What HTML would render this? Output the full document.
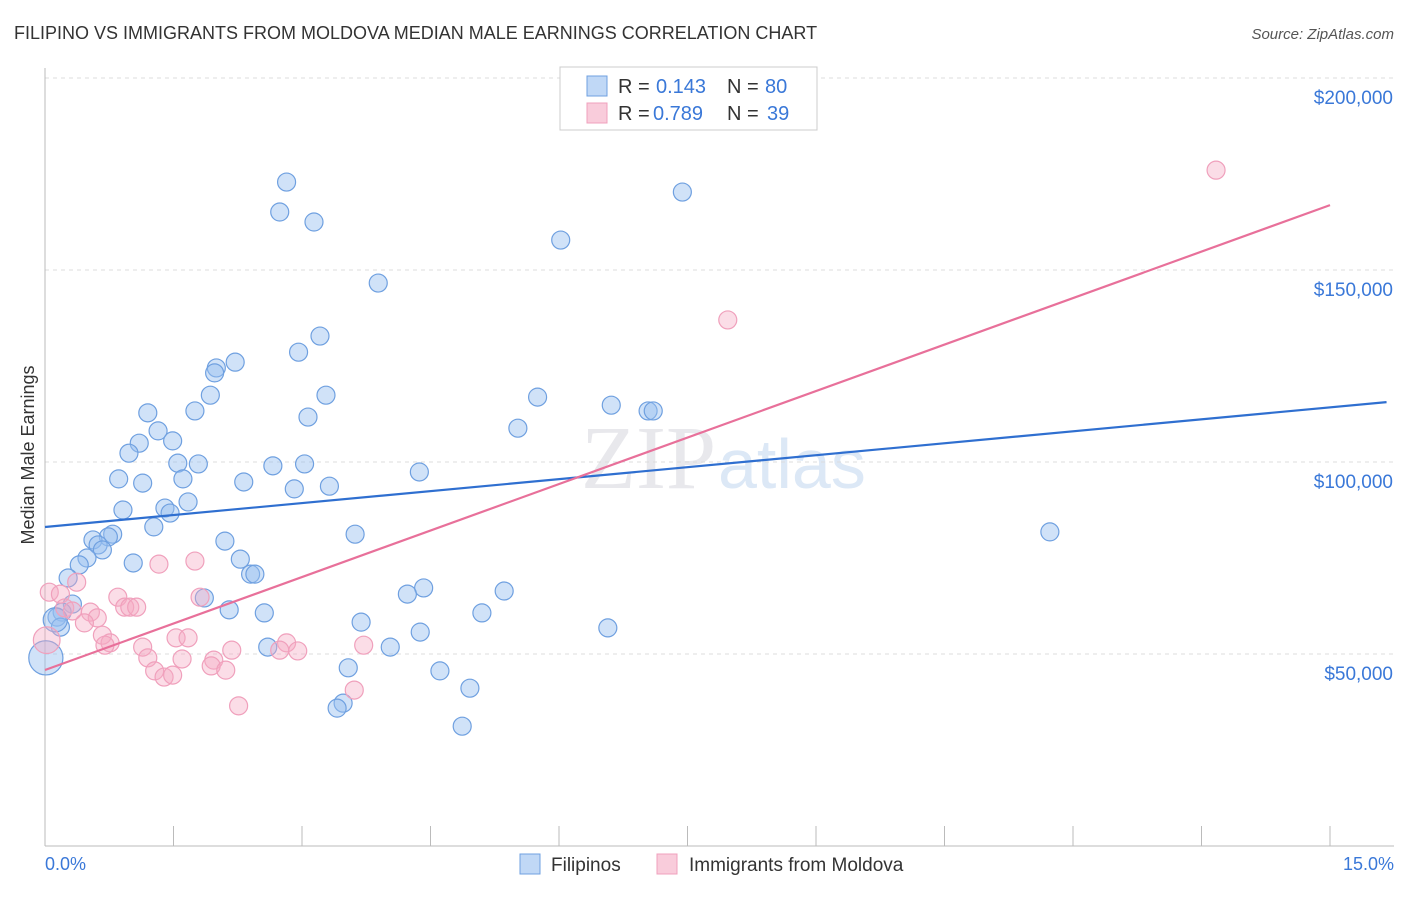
<!DOCTYPE html>
<html><head><meta charset="utf-8"><style>
body{margin:0;background:#fff;font-family:"Liberation Sans",sans-serif;}
</style></head><body>
<svg width="1406" height="892" viewBox="0 0 1406 892" xmlns="http://www.w3.org/2000/svg">
<text x="14" y="39" font-size="18" fill="#333">FILIPINO VS IMMIGRANTS FROM MOLDOVA MEDIAN MALE EARNINGS CORRELATION CHART</text>
<text x="1394" y="39" font-size="15" fill="#555" font-style="italic" text-anchor="end">Source: ZipAtlas.com</text>
<text x="716" y="488" font-size="90" fill="#e8e8ec" font-family="Liberation Serif" text-anchor="end">ZIP</text>
<text x="718" y="488" font-size="70" fill="#dce8f6">atlas</text>
<g id="grid"></g>
<g id="axes"></g>
<g id="pts"></g>
<g id="lines"></g>
<text x="34" y="455" font-size="18" fill="#333" transform="rotate(-90 34 455)" text-anchor="middle">Median Male Earnings</text>
<text x="45" y="870" font-size="18" fill="#3a78d8">0.0%</text>
<text x="1394" y="870" font-size="18" fill="#3a78d8" text-anchor="end">15.0%</text>
<g>
<rect x="560" y="67" width="257" height="63" fill="#fff" stroke="#ccc"/>
<rect x="587" y="76" width="20" height="20" fill="rgba(150,190,240,0.6)" stroke="#6fa0e0"/>
<rect x="587" y="103" width="20" height="20" fill="rgba(245,170,195,0.6)" stroke="#f0a0bc"/>
<text x="618" y="93" font-size="20" fill="#333">R =</text>
<text x="656" y="93" font-size="20" fill="#3a78d8">0.143</text>
<text x="727" y="93" font-size="20" fill="#333">N =</text>
<text x="765" y="93" font-size="20" fill="#3a78d8">80</text>
<text x="618" y="120" font-size="20" fill="#333">R =</text>
<text x="653" y="120" font-size="20" fill="#3a78d8">0.789</text>
<text x="727" y="120" font-size="20" fill="#333">N =</text>
<text x="767" y="120" font-size="20" fill="#3a78d8">39</text>
</g>
<g>
<rect x="520" y="854" width="20" height="20" fill="rgba(150,190,240,0.6)" stroke="#6fa0e0"/>
<text x="551" y="871" font-size="19" fill="#333">Filipinos</text>
<rect x="657" y="854" width="20" height="20" fill="rgba(245,170,195,0.6)" stroke="#f0a0bc"/>
<text x="689" y="871" font-size="19" fill="#333">Immigrants from Moldova</text>
</g>
</svg>
<script>
const yTicks=[50000,100000,150000,200000];
const yTickLabels=["$50,000","$100,000","$150,000","$200,000"];
const xTicks=[0,1.5,3,4.5,6,7.5,9,10.5,12,13.5,15];
const blueX=[2.82,2.74,3.14,7.44,6.02,3.89,3.21,2.96,2.22,2.00,1.98,1.93,3.28,1.75,1.20,3.07,5.75,6.61,7.04,7.10,5.52,1.32,1.49,1.10,0.98,1.55,1.79,2.66,3.03,4.37,0.86,1.14,1.61,2.32,2.91,3.32,1.67,1.40,1.46,0.91,1.27,11.73,3.62,0.79,0.74,0.56,0.62,2.10,0.67,0.49,0.40,1.03,2.28,2.40,2.45,0.27,4.42,4.23,5.36,1.86,0.32,0.20,2.15,2.56,5.10,0.14,3.69,0.18,4.38,6.57,2.60,4.03,0.01,3.54,4.61,4.96,3.48,3.41,4.87,0.12];
const blueY=[172.9,165.1,162.5,170.3,157.8,146.6,132.8,128.6,126.0,124.5,123.2,117.4,117.4,113.3,112.8,111.7,116.9,114.8,113.3,113.3,108.8,108.1,105.5,104.9,102.3,99.7,99.5,99.0,99.5,97.4,95.6,94.5,95.6,94.8,93.0,93.7,89.6,88.0,86.7,87.5,83.1,81.8,81.2,81.2,80.5,79.7,78.4,79.4,77.1,75.0,73.2,73.7,74.7,70.8,70.8,69.8,67.2,65.6,66.4,64.6,63.0,60.9,61.5,60.7,60.7,59.6,58.3,57.0,55.7,56.8,51.8,51.8,49.0,46.4,45.6,41.1,37.2,35.9,31.2,58.9];
const blueSize=blueX.map((v,i)=>i===72?3.6:(i===79?1.8:1));
const pinkX=[13.67,7.97,0.05,0.18,0.37,0.23,0.53,0.61,0.46,0.85,0.93,0.99,1.07,1.75,1.33,1.81,0.67,0.76,0.70,1.14,1.53,1.67,1.20,1.60,1.97,1.94,2.11,2.18,2.82,2.74,2.95,3.72,1.28,1.39,1.49,3.61,2.26,0.02,0.32];
const pinkY=[176.0,137.0,66.1,65.6,68.7,62.0,60.9,59.4,58.1,64.8,62.2,62.2,62.2,74.2,73.4,64.8,54.9,52.9,52.3,51.8,54.2,54.2,49.0,48.7,48.4,46.9,45.8,51.0,52.9,51.0,50.8,52.3,45.6,44.0,44.5,40.6,36.5,53.6,61.2];
const pinkSize=pinkX.map((v,i)=>i===37?2.2:1);
const blueLine=[[0,83.07],[15.66,115.6]];
const pinkLine=[[0,45.83],[15,166.9]];
const X=v=>45+v*85.667;
const Y=v=>846-v/50000*192;
const NS="http://www.w3.org/2000/svg";
function mk(t,a,p){const e=document.createElementNS(NS,t);for(const k in a)e.setAttribute(k,a[k]);p.appendChild(e);return e;}
const gGrid=document.getElementById('grid'),gAxes=document.getElementById('axes'),gPts=document.getElementById('pts'),gLines=document.getElementById('lines');
yTicks.forEach((t,i)=>{
 const g=mk('line',{x1:45,x2:1394,y1:Y(t),y2:Y(t),stroke:'#ddd','stroke-dasharray':'4,4'},gGrid);
 
 
 const l=mk('text',{x:1393,y:Y(t)+26,'font-size':19,fill:'#3a78d8','text-anchor':'end'},gAxes);
 l.textContent=yTickLabels[i];
 
 
});
const ya=mk('line',{x1:45,x2:45,y1:68,y2:846,stroke:'#bbb'},gAxes);


const xa=mk('line',{x1:45,x2:1394,y1:846,y2:846,stroke:'#bbb'},gAxes);


xTicks.forEach(t=>{
 const k=mk('line',{x1:X(t),x2:X(t),y1:826,y2:846,stroke:'#bbb'},gAxes);
 
 
});
function dots(xs,ys,ss,fill,stroke,name){
 xs.forEach((x,i)=>{
  const c=mk('circle',{cx:X(x),cy:Y(ys[i]*1000),r:9*Math.sqrt(ss[i]),fill:fill,stroke:stroke,'stroke-width':1.2},gPts);
  
  
 });
}
dots(blueX,blueY,blueSize,'rgba(150,190,240,0.45)','#6fa0e0','filipino-point');
dots(pinkX,pinkY,pinkSize,'rgba(245,170,195,0.4)','#f0a0bc','moldova-point');
const bl=mk('line',{x1:X(blueLine[0][0]),y1:Y(blueLine[0][1]*1000),x2:X(blueLine[1][0]),y2:Y(blueLine[1][1]*1000),stroke:'#2f6fd0','stroke-width':2.2},gLines);


const pl=mk('line',{x1:X(pinkLine[0][0]),y1:Y(pinkLine[0][1]*1000),x2:X(pinkLine[1][0]),y2:Y(pinkLine[1][1]*1000),stroke:'#e8709a','stroke-width':2.2},gLines);


</script>
</body></html>
